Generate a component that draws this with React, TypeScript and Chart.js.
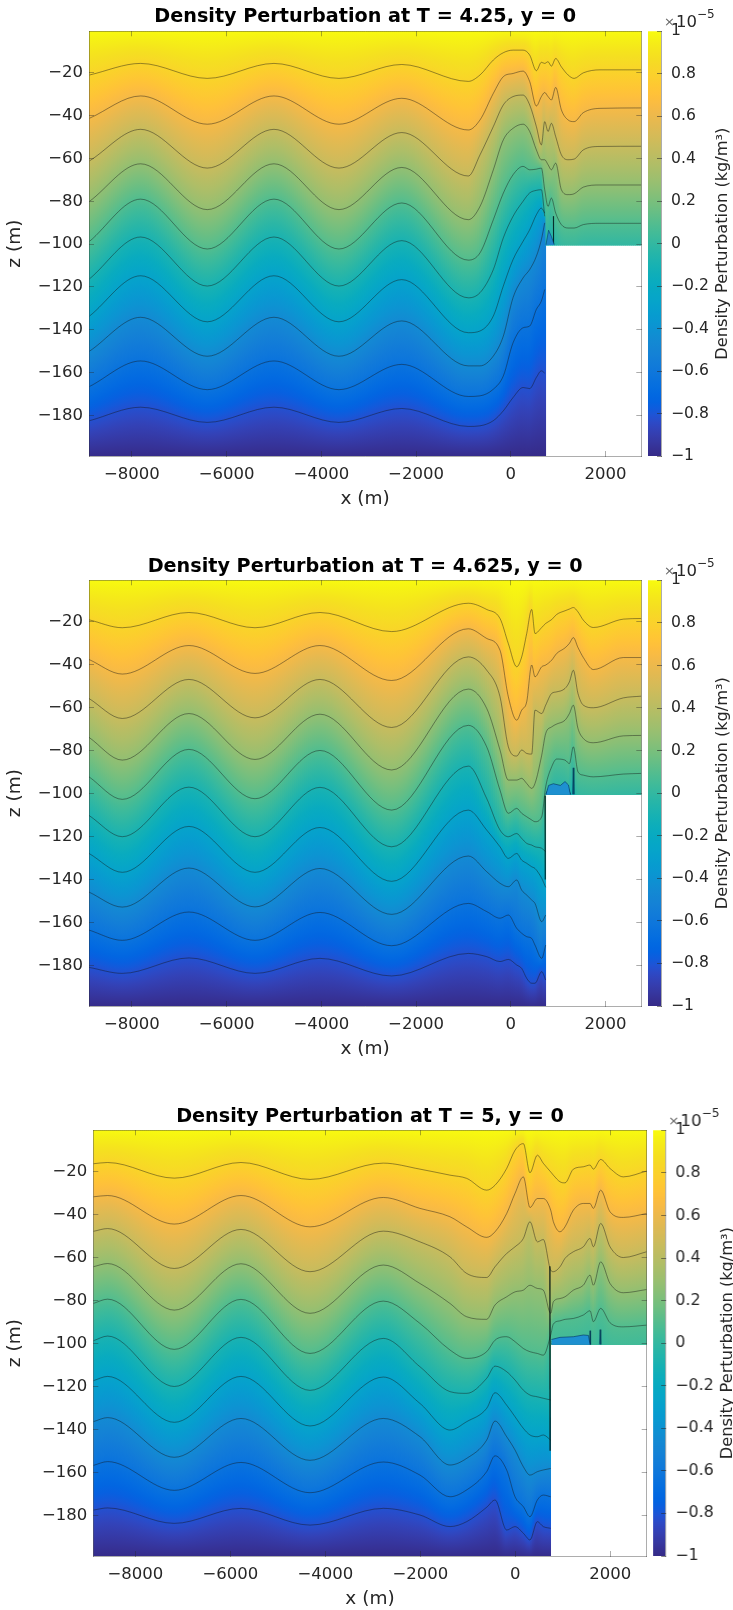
import React, { useEffect, useRef } from "react";
import { Chart, registerables } from "chart.js";
Chart.register(...registerables);

const FONT = '"DejaVu Sans"';
const yTicksStep = 20;
const xTickValues = [-8000,-6000,-4000,-2000,0,2000];
const barTickStep = 0.2;

// Panel 1, T = 4.25
const p1Stations = [-8893,-7816,-6408,-5000,-3628,-2300,-895,-648,-367,-156,50,261,401,542,648,718,788,859,950,1070,1211,1340,1533,1886,2758];
const p1L1 = [-21,-15.6,-22.6,-15.6,-22.6,-16.1,-24,-21,-14,-10.6,-9.4,-9.4,-11.7,-19,-15.1,-15.6,-14.8,-16.9,-13.3,-17.2,-21,-22.6,-20,-18.6,-18.6];
const p1L2 = [-41.2,-30.8,-44,-30.8,-44,-31.9,-46.7,-42,-29.6,-21.8,-20.3,-19.2,-24.1,-35.5,-31.1,-29.2,-31.1,-32.7,-26.8,-37.3,-42,-42.8,-38.6,-36.6,-36.4];
const p1L3 = [-61.1,-46.4,-64.5,-46.4,-64.5,-47.9,-68.2,-58.3,-45.1,-35,-31.1,-30.4,-35,-45.1,-53.7,-42.8,-47.4,-43.6,-49.8,-58.3,-60.6,-60.3,-56,-54.4,-54.3];
const p1L4 = [-80,-62.5,-83.9,-62.5,-83.9,-64.2,-88.6,-82.4,-65.3,-51.3,-45.9,-44,-47.4,-56,-60.6,-60.6,-62.9,-65.3,-62.2,-74.6,-76.9,-76.5,-73.4,-72.4,-72.4];
const p1L5 = [-98.7,-79,-102.3,-79,-102.3,-80.8,-107.5,-104.1,-88.6,-76.2,-67.6,-63.7,-65.3,-65,-64.5,-74.6,-82.4,-78.5,-85.5,-90.9,-92.5,-92.5,-90.9,-90.3,-90.3];
const p1L6 = [-116.2,-96.7,-119.6,-96.7,-119.6,-98.4,-125.1,-122.7,-111.9,-97.1,-87,-80,-76.1,-74.9,-74.6,-87];
const p1L7 = [-133.6,-114.8,-136.3,-114.8,-136.3,-116.6,-141.4,-140.6,-133.6,-119.6,-107.2,-98.7,-93.3,-86.3,-83.2,-85.5];
const p1L8 = [-150,-134.2,-152.4,-134.2,-152.4,-135.9,-156.9,-156.9,-152.3,-143,-125,-115.8,-111.9,-105.7,-97.9,-90.1];
const p1L9 = [-166.5,-154.6,-168,-154.6,-168,-156.2,-171.2,-170.9,-167.8,-161.6,-146.1,-139.1,-138.3,-130.5,-126.6,-121.2];
const p1L10 = [-182.5,-176.2,-183.3,-176.2,-183.3,-176.8,-185.2,-184.9,-182.5,-177.9,-171.7,-167,-167.5,-162.3,-159.2,-160.3];
const p1EddyX = [745,800,860,920];
const p1EddyZ = [-100.3,-93.5,-96.5,-100.3];
const p1StreakX = [900,905];
const p1StreakZ = [-87,-100];

// Panel 2, T = 4.625
const p2Stations = [-8906,-8203,-6796,-5400,-4028,-2513,-895,-507,-226,-50,127,232,338,443,513,655,739,866,971,1147,1240,1323,1420,1534,1745,2379,2758];
const p2L1 = [-19,-22.7,-15.6,-22.7,-15.6,-24.5,-11.3,-14.2,-18.4,-30.1,-40.9,-36.3,-25.4,-14.2,-25.4,-22.6,-20.7,-18.9,-16.5,-14.8,-14,-13.3,-15.3,-19.2,-22.6,-18.7,-18.4];
const p2L2 = [-37.5,-44.3,-31,-44,-31,-47.3,-23.2,-27.7,-33.2,-54.9,-65.8,-61.1,-57.2,-40.1,-45.6,-40.9,-40.1,-37.8,-34.7,-32.1,-30,-27.3,-31.9,-36.6,-42.2,-36.6,-36.6];
const p2L3 = [-55.7,-65,-46.8,-64.7,-46.8,-69.2,-36.3,-42.5,-54.9,-78.2,-82.5,-79.7,-81.3,-81.6,-61.1,-62.7,-58.8,-53.3,-52.6,-51,-47.9,-42.5,-53.3,-58.8,-60,-55.4,-54.6];
const p2L4 = [-73.8,-84.4,-62.7,-84.1,-63,-89,-51.3,-60.3,-79.7,-93.7,-93.7,-92.9,-95.3,-97.6,-95.3,-82.1,-72,-68.9,-67.6,-65.8,-62.7,-58.8,-69.6,-74.3,-76.3,-73.1,-72.9];
const p2L5 = [-92.2,-102.7,-79.4,-102.4,-79.9,-107.7,-68.2,-78.2,-98.4,-109.2,-106.9,-109.2,-110.8,-112.3,-113.1,-110.8,-96.8,-87.5,-83.9,-84.4,-86,-78.2,-89.8,-91.4,-92.2,-90.9,-90.6];
const p2L6 = [-110.2,-120.1,-97,-120.1,-97.1,-124.8,-87.2,-102.3,-117,-120.1,-118.6,-120.9,-123.2,-124,-124.8,-125.5,-127.1];
const p2L7 = [-127.9,-136.7,-115.3,-136.7,-115.8,-140.9,-107.7,-117,-124.8,-130.2,-127.9,-131,-132.5,-134.1,-134.9,-139.5,-143.7];
const p2L8 = [-145.9,-152.9,-134.7,-152.8,-134.9,-156.3,-129.1,-136.4,-141.8,-143.4,-140.3,-145,-147.3,-149.6,-151.2,-159.7,-156.6];
const p2L9 = [-163.6,-168.4,-155.2,-168.4,-155.4,-170.9,-151.2,-155,-158.1,-156.6,-162.8,-165.1,-166.7,-167.5,-170.6,-176.8,-170.6];
const p2L10 = [-181,-183.8,-176.6,-183.8,-176.8,-185,-174.5,-176,-178.3,-177.3,-179.9,-181.5,-186.1,-188.4,-188.4,-183,-186.9];
const p2EddyX = [745,800,900,1050,1147,1220,1260];
const p2Eddy1 = [-100.3,-96.2,-95.4,-96.2,-94.4,-96,-100.3];
const p2Eddy2 = [-100.3,-97.5,-97,-97.4,-96.3,-97.5,-100.3];
const p2Eddy3 = [-100.3,-98.7,-98.5,-98.8,-98,-98.8,-100.3];
const p2Eddy4 = [-100.3,-99.6,-99.6,-99.7,-99.4,-99.7,-100.3];
const p2SpikeX = [1305,1320,1335];
const p2SpikeZ = [-100.3,-88,-100.3];
const p2StreakX = [725,730];
const p2StreakZ = [-101,-140];

// Panel 3, T = 5
const p3Stations = [-8884,-8582,-7179,-5775,-4322,-2779,-2007,-1375,-1024,-603,-427,-182,-6,169,309,464,590,745,801,941,1046,1222,1432,1573,1643,1797,1994,2275,2766];
const p3L1 = [-16.2,-15.6,-22.9,-15.6,-23.5,-15.9,-18.7,-21.5,-23,-28.5,-26.2,-18.4,-9.9,-6.8,-20.4,-12.2,-16,-20,-21.5,-24.6,-25.1,-18.7,-17.6,-16.8,-18.7,-14.2,-18.4,-22.3,-19.6];
const p3L2 = [-31.6,-31,-44.3,-31,-45.6,-31.9,-37,-40.9,-45.6,-50.5,-47.9,-39.4,-30,-22.3,-36.6,-32.4,-32.4,-37.8,-43.2,-47.9,-45.6,-37.8,-34.7,-34.7,-37,-28.5,-38.6,-41.2,-39.4];
const p3L3 = [-47.7,-46.4,-65,-46.8,-66.5,-47.6,-52.6,-59.6,-67.3,-69.2,-64.2,-58,-54.9,-51,-43.2,-52.6,-51.5,-65.8,-66.5,-64.2,-60.3,-57.2,-54.9,-51,-54.9,-44,-54.9,-59.9,-57.2];
const p3L4 = [-64.2,-62.7,-84.4,-62.8,-85.9,-63.4,-72,-81.3,-87.5,-88.7,-82,-78.2,-75.9,-75.1,-72.8,-74.3,-75.1,-85.9,-80.5,-79,-78.2,-75.1,-72.8,-68.1,-72.8,-61.9,-72,-76.3,-74.8];
const p3L5 = [-81.3,-79.3,-102.7,-79.4,-104.6,-80.2,-90.6,-103,-106.9,-103.8,-98.4,-96.8,-99.1,-102.3,-103.8,-104.6,-105.4,-96,-90.9,-89.4,-88.7,-88.3,-86.7,-84.7,-89.8,-83.6,-90.3,-92.2,-91.4];
const p3L6 = [-98.7,-96.5,-120,-97.1,-121.8,-97.6,-110.8,-122.4,-123.2,-116.2,-110.5,-113.1,-117,-121.7,-124,-124.8,-125.5,-126.3];
const p3L7 = [-117.3,-115.3,-136.7,-115.3,-138.4,-115.6,-127.9,-140.3,-136.4,-130.2,-122.9,-128.7,-134.1,-139.5,-142.6,-143.4,-142.6,-145];
const p3L8 = [-136.4,-134.5,-153,-134.9,-154.4,-134.9,-143.4,-156.6,-153.5,-145,-136.1,-143.4,-149.6,-157.4,-161.3,-159.7,-158.9,-158.2];
const p3L9 = [-156.8,-155,-168.4,-155.4,-169.5,-155.2,-161.3,-171.4,-168.2,-159.7,-152.3,-158.9,-171.4,-176,-180.7,-172.9,-170.6,-171.4];
const p3L10 = [-177.6,-176.6,-183.8,-176.8,-184.6,-176.8,-179.9,-185.3,-183,-176.3,-172.9,-186.9,-185.3,-188.4,-191.5,-183,-185.3,-186.1];
const p3EddyX = [760,941,1222,1432,1540,1573];
const p3Eddy1 = [-98.1,-97.1,-96.8,-96,-96.2,-100.4];
const p3Eddy2 = [-99.2,-98.7,-98.4,-97.8,-97.8,-100.4];
const p3Eddy3 = [-100,-99.8,-99.5,-99.2,-99.2,-100.4];
const p3Spike1X = [1560,1573,1585];
const p3Spike1Z = [-100.4,-94,-100.4];
const p3Spike2X = [1770,1785,1800];
const p3Spike2Z = [-100.4,-93.5,-100.4];
const p3StreakX = [728,733];
const p3StreakZ = [-64,-150];

const parula: number[][] = [
[.2081,.1663,.5292],[.2116,.1898,.5777],[.2123,.2138,.627],[.2081,.2386,.6771],[.1959,.2645,.7279],[.1707,.2919,.7792],[.1253,.3242,.8303],[.0591,.3598,.8683],
[.0117,.3875,.882],[.006,.4086,.8828],[.0165,.4266,.8786],[.0329,.443,.872],[.0498,.4586,.8641],[.0629,.4737,.8554],[.0723,.4887,.8467],[.0779,.504,.8384],
[.0793,.52,.8312],[.0749,.5375,.8263],[.0641,.557,.824],[.0488,.5772,.8228],[.0343,.5966,.8199],[.0265,.6137,.8135],[.0239,.6287,.8038],[.0231,.6418,.7913],
[.0228,.6535,.7768],[.0267,.6642,.7607],[.0384,.6743,.7436],[.059,.6838,.7254],[.0843,.6928,.7062],[.1133,.7015,.6859],[.1453,.7098,.6646],[.1801,.7177,.6424],
[.2178,.725,.6193],[.2586,.7317,.5954],[.3022,.7376,.5712],[.3482,.7424,.5473],[.3953,.7459,.5244],[.442,.7481,.5033],[.4871,.7491,.484],[.53,.7491,.4661],
[.5709,.7485,.4494],[.6099,.7473,.4337],[.6473,.7456,.4188],[.6834,.7435,.4044],[.7184,.7411,.3905],[.7525,.7384,.3768],[.7858,.7356,.3633],[.8185,.7327,.3498],
[.8507,.7299,.336],[.8824,.7274,.3217],[.9139,.7258,.3063],[.945,.7261,.2886],[.9739,.7314,.2666],[.9938,.7455,.2403],[.999,.7653,.2164],[.9955,.7861,.1967],
[.988,.8066,.1794],[.9789,.8271,.1633],[.9697,.8481,.1475],[.9626,.8705,.1309],[.9589,.8949,.1132],[.9598,.9218,.0948],[.9661,.9514,.0755],[.9763,.9831,.0538]];

function colorAt(v: number) {
  const t = Math.max(0, Math.min(1, (v + 1) / 2)) * 63;
  const i = Math.min(62, Math.floor(t));
  const f = t - i;
  const c = parula[i].map((a, k) => Math.round(255 * (a + (parula[i + 1][k] - a) * f)));
  return `rgb(${c[0]},${c[1]},${c[2]})`;
}

// Same Fritsch-Carlson curve that Chart.js draws for the contour lines.
function monotone(xs: number[], ys: number[]) {
  const n = ys.length;
  const d: number[] = [];
  const m: number[] = new Array(n).fill(0);
  for (let i = 0; i < n - 1; i++) d.push((ys[i + 1] - ys[i]) / (xs[i + 1] - xs[i]));
  m[0] = d[0];
  m[n - 1] = d[n - 2];
  for (let i = 1; i < n - 1; i++) m[i] = d[i - 1] * d[i] <= 0 ? 0 : (d[i - 1] + d[i]) / 2;
  for (let i = 0; i < n - 1; i++) {
    if (d[i] === 0) { m[i] = 0; m[i + 1] = 0; continue; }
    const a = m[i] / d[i], b = m[i + 1] / d[i], s = a * a + b * b;
    if (s > 9) { const t = 3 / Math.sqrt(s); m[i] = a * t * d[i]; m[i + 1] = b * t * d[i]; }
  }
  return (x: number) => {
    if (x <= xs[0]) return ys[0];
    if (x >= xs[n - 1]) return ys[n - 1];
    let i = 0;
    while (x > xs[i + 1]) i++;
    const h = xs[i + 1] - xs[i], t = (x - xs[i]) / h, t2 = t * t, t3 = t2 * t;
    return (2 * t3 - 3 * t2 + 1) * ys[i] + (t3 - 2 * t2 + t) * h * m[i] + (-2 * t3 + 3 * t2) * ys[i + 1] + (t3 - t2) * h * m[i + 1];
  };
}

type Extra = { x: number[]; z: number[]; fill?: string; color?: string; width?: number };
type Panel = {
  title: string; top: number; canvasTop: number; left: number; right: number; xMin: number; xMax: number; wall: number;
  stations: number[]; lines: number[][]; extras: Extra[]; barLeft: number; barRight: number;
};

const panels: Panel[] = [
  { title: "Density Perturbation at T = 4.25, y = 0", canvasTop: 0, top: 31.3, left: 89, right: 641.3, barLeft: 648, barRight: 661, xMin: -8906, xMax: 2758, wall: 740,
    stations: p1Stations, lines: [p1L1,p1L2,p1L3,p1L4,p1L5,p1L6,p1L7,p1L8,p1L9,p1L10],
    extras: [{ x: p1EddyX, z: p1EddyZ, fill: "#1f86c9", color: "rgba(0,40,90,.7)" }, { x: p1StreakX, z: p1StreakZ, color: "rgba(0,30,30,.7)", width: 0.8 }] },
  { title: "Density Perturbation at T = 4.625, y = 0", canvasTop: 550, top: 30.3, left: 89, right: 641.3, barLeft: 648, barRight: 661, xMin: -8906, xMax: 2758, wall: 740,
    stations: p2Stations, lines: [p2L1,p2L2,p2L3,p2L4,p2L5,p2L6,p2L7,p2L8,p2L9,p2L10],
    extras: [{ x: p2EddyX, z: p2Eddy1, fill: "#1e90d0", color: "rgba(0,40,90,.8)" }, { x: p2EddyX, z: p2Eddy2, color: "rgba(0,40,90,.8)" }, { x: p2EddyX, z: p2Eddy3, fill: "#0d62c8", color: "rgba(0,40,90,.8)" }, { x: p2EddyX, z: p2Eddy4, color: "rgba(0,40,90,.8)" },
      { x: p2SpikeX, z: p2SpikeZ, fill: "#1a86c4", color: "rgba(0,50,80,.8)" }, { x: p2StreakX, z: p2StreakZ, color: "rgba(0,20,20,.8)", width: 1.2 }] },
  { title: "Density Perturbation at T = 5, y = 0", canvasTop: 1100, top: 30.3, left: 93.3, right: 646.7, barLeft: 653.3, barRight: 666, xMin: -8884, xMax: 2766, wall: 745,
    stations: p3Stations, lines: [p3L1,p3L2,p3L3,p3L4,p3L5,p3L6,p3L7,p3L8,p3L9,p3L10],
    extras: [{ x: p3EddyX, z: p3Eddy1, fill: "#1e90d0", color: "rgba(0,40,90,.8)" }, { x: p3EddyX, z: p3Eddy2, color: "rgba(0,40,90,.8)" }, { x: p3EddyX, z: p3Eddy3, fill: "#0d62c8", color: "rgba(0,40,90,.8)" },
      { x: p3Spike1X, z: p3Spike1Z, fill: "#1a86c4", color: "rgba(0,50,80,.8)" }, { x: p3Spike2X, z: p3Spike2Z, fill: "#1a86c4", color: "rgba(0,50,80,.8)" }, { x: p3StreakX, z: p3StreakZ, color: "rgba(0,20,20,.85)", width: 1.4 }] },
];

const CANVAS_H = 510;
const AREA_BOTTOM = 456;
const Z_MIN = -199;
const Z_MAX = -0.6;
const STEP_TOP = -100.5;
const tickColor = "#262626";
const frameColor = "rgba(40,40,40,.38)";
const minus = (s: string) => s.replace("-", "\u2212");
const setXTicks = (s: any) => { s.ticks = xTickValues.map((value) => ({ value })); };

function columnStops(p: Panel, curves: { f: (x: number) => number; end: number; level: number }[], x: number) {
  const knots: { z: number; v: number }[] = [{ z: 0, v: 1 }];
  let prev = 0;
  curves.forEach((c) => {
    if (x > p.wall && c.end < p.wall) return;
    const z = Math.min(c.f(x), prev - 0.3);
    knots.push({ z, v: c.level });
    prev = z;
  });
  knots.push({ z: -200, v: -1 });
  const stops: [number, string][] = [];
  for (let k = 0; k < knots.length - 1; k++) {
    const a = knots[k], b = knots[k + 1];
    for (let s = 0; s < 6; s++) {
      const t = s / 6;
      stops.push([Math.min(1, Math.max(0, -(a.z + (b.z - a.z) * t) / 200)), colorAt(a.v + (b.v - a.v) * t)]);
    }
  }
  stops.push([1, colorAt(-1)]);
  return stops;
}

function makePanel(canvas: HTMLCanvasElement, p: Panel) {
  const curves = p.lines.map((ys, k) => ({
    f: monotone(p.stations.slice(0, ys.length), ys),
    end: p.stations[ys.length - 1],
    level: 1 - ((k + 1) * 2) / 11,
  }));
  const xs: number[] = [];
  const half = 32;
  for (let x = p.xMin; x < p.wall - half; x += 42) xs.push(x);
  xs.push(p.wall - half, p.wall);
  for (let x = p.wall + half; x < p.xMax + 42; x += 42) xs.push(x);
  const cols = xs.map((x) => ({ x, y: [x > p.wall - 1 ? STEP_TOP : -200, 0] }));
  const stops = xs.map((x) => columnStops(p, curves, x));

  const datasets: any[] = [
    ...p.lines.map((ys) => ({
      type: "line", data: ys.map((z, i) => ({ x: p.stations[i], y: z })), borderColor: "rgba(20,20,20,.62)", borderWidth: 0.7,
      pointRadius: 0, cubicInterpolationMode: "monotone", fill: false, order: 1, xAxisID: "x", yAxisID: "y",
    })),
    ...p.extras.map((e) => ({
      type: "line", data: e.x.map((x, i) => ({ x, y: e.z[i] })), borderColor: e.color, borderWidth: e.width || 0.7,
      pointRadius: 0, tension: 0, fill: e.fill ? { value: -100.45 } : false, backgroundColor: e.fill, order: 1, xAxisID: "x", yAxisID: "y",
    })),
    {
      type: "bar", data: cols, barThickness: 3, grouped: false, borderWidth: 0, order: 5, xAxisID: "x", yAxisID: "y",
      backgroundColor: (c: any) => {
        if (c.type !== "data") return "#000";
        const ys = c.chart.scales.y;
        const a = ys && ys.getPixelForValue(0), b = ys && ys.getPixelForValue(-200);
        if (!Number.isFinite(a) || !Number.isFinite(b)) return "#000";
        const g = c.chart.ctx.createLinearGradient(0, a, 0, b);
        stops[c.dataIndex].forEach(([o, col]) => g.addColorStop(o, col));
        return g;
      },
    },
  ];

  const frame = { drawOnChartArea: false, drawTicks: true, tickLength: -5, tickColor: frameColor, tickWidth: 1, z: 1, offset: false };
  const border = { display: true, color: frameColor, width: 1, z: 1 };
  const xOpts = { type: "linear", min: p.xMin, max: p.xMax, offset: false };
  const yOpts = { type: "linear", min: Z_MIN, max: Z_MAX };
  return new Chart(canvas, {
    type: "line",
    data: { datasets },
    options: {
      animation: false, responsive: false, devicePixelRatio: 1,
      layout: { autoPadding: false, padding: { left: 0, top: 0, bottom: 0, right: 733 - p.right } },
      plugins: {
        legend: { display: false }, tooltip: { enabled: false },
        title: { display: true, text: p.title, color: "#000", fullSize: false,
          font: { family: FONT, size: 19.2, weight: "bold", lineHeight: 1.2 }, padding: { top: 5, bottom: p.top - 23.04 - 5 } },
      },
      scales: {
        x: { ...xOpts, position: "bottom", grid: frame, border, afterBuildTicks: setXTicks,
          afterFit: (s: any) => { s.height = CANVAS_H - AREA_BOTTOM; },
          ticks: { maxRotation: 0, autoSkip: false, color: tickColor, font: { family: FONT, size: 16.5 }, padding: 14, callback: (v: any) => minus(String(v)) },
          title: { display: true, text: "x (m)", color: tickColor, font: { family: FONT, size: 18.5 }, padding: { top: 0, bottom: 0 } } },
        x2: { ...xOpts, position: "top", grid: frame, border, afterBuildTicks: setXTicks, afterFit: (s: any) => { s.height = 0; },
          ticks: { display: false, autoSkip: false } },
        y: { ...yOpts, position: "left", grid: frame, border,
          afterFit: (s: any) => { s.width = p.left; },
          ticks: { stepSize: yTicksStep, includeBounds: false, autoSkip: false, color: tickColor, font: { family: FONT, size: 16.5 }, padding: 11, callback: (v: any) => minus(String(v)) },
          title: { display: true, text: "z (m)", color: tickColor, font: { family: FONT, size: 18.5 }, padding: { top: 4, bottom: 0 } } },
        y2: { ...yOpts, position: "right", grid: frame, border, afterFit: (s: any) => { s.width = 0; },
          ticks: { stepSize: yTicksStep, includeBounds: false, display: false, autoSkip: false } },
      },
    } as any,
  });
}

const barLabels = [""];
const barRange = [[-1, 1]];

function makeBar(canvas: HTMLCanvasElement, p: Panel) {
  const textPlugin = {
    id: "barText",
    afterDraw(chart: any) {
      const { ctx, chartArea: a } = chart;
      ctx.save();
      ctx.textBaseline = "alphabetic";
      ctx.textAlign = "left";
      ctx.font = `13px ${FONT}`;
      ctx.fillStyle = "#666";
      ctx.fillText("\u00d7", a.right + 3, a.top - 5);
      ctx.fillStyle = tickColor;
      ctx.font = `16.5px ${FONT}`;
      ctx.fillText("10", a.right + 15, a.top - 4);
      ctx.font = `12px ${FONT}`;
      ctx.fillText("\u22125", a.right + 36, a.top - 13);
      ctx.translate(a.right + 62, (a.top + a.bottom) / 2);
      ctx.rotate(-Math.PI / 2);
      ctx.textAlign = "center";
      ctx.textBaseline = "middle";
      ctx.font = `16.2px ${FONT}`;
      ctx.fillText("Density Perturbation (kg/m\u00b3)", 0, 0);
      ctx.restore();
    },
  };
  return new Chart(canvas, {
    type: "bar",
    data: {
      labels: barLabels,
      datasets: [{
        data: barRange, barPercentage: 1, categoryPercentage: 1, borderWidth: 0,
        backgroundColor: (c: any) => {
          if (c.type !== "data") return "#000";
          const ys = c.chart.scales.y;
          const a = ys && ys.getPixelForValue(1), b = ys && ys.getPixelForValue(-1);
          if (!Number.isFinite(a) || !Number.isFinite(b)) return "#000";
          const g = c.chart.ctx.createLinearGradient(0, a, 0, b);
          parula.forEach((_, i) => g.addColorStop(i / 63, colorAt(1 - (2 * i) / 63)));
          return g;
        },
      }],
    },
    options: {
      animation: false, responsive: false, devicePixelRatio: 1,
      layout: { autoPadding: false, padding: { left: 6, top: p.top, bottom: CANVAS_H - AREA_BOTTOM, right: 0 } },
      plugins: { legend: { display: false }, tooltip: { enabled: false } },
      scales: {
        x: { display: false },
        y: { position: "right", min: -1, max: 1, afterFit: (s: any) => { s.width = 733 - p.barRight; },
          grid: { drawOnChartArea: false, tickLength: -4, tickColor: "rgba(40,40,40,.55)", z: 1 },
          border: { display: true, color: frameColor, z: 1 },
          ticks: { stepSize: barTickStep, autoSkip: false, includeBounds: false, color: tickColor, font: { family: FONT, size: 15.6 }, padding: 14,
            callback: (v: any) => minus(String(Math.round(v * 10) / 10)) } },
      },
    } as any,
    plugins: [textPlugin],
  });
}

export default function App() {
  const panelRefs = useRef<(HTMLCanvasElement | null)[]>([]);
  const barRefs = useRef<(HTMLCanvasElement | null)[]>([]);
  useEffect(() => {
    const charts = panels.flatMap((p, i) => [makePanel(panelRefs.current[i]!, p), makeBar(barRefs.current[i]!, p)]);
    return () => charts.forEach((c) => c.destroy());
  }, []);
  return (
    <div style={{ position: "absolute", left: 0, top: 0, width: 733, height: 1610, overflow: "hidden", background: "#fff" }}>
      {panels.map((p, i) => (
        <React.Fragment key={i}>
          <canvas ref={(el) => { panelRefs.current[i] = el; }} width={733} height={CANVAS_H}
            style={{ position: "absolute", left: 0, top: p.canvasTop, width: 733, height: CANVAS_H }} />
          <canvas ref={(el) => { barRefs.current[i] = el; }} width={733 - (p.barLeft - 6)} height={CANVAS_H}
            style={{ position: "absolute", left: p.barLeft - 6, top: p.canvasTop, width: 733 - (p.barLeft - 6), height: CANVAS_H }} />
        </React.Fragment>
      ))}
    </div>
  );
}
